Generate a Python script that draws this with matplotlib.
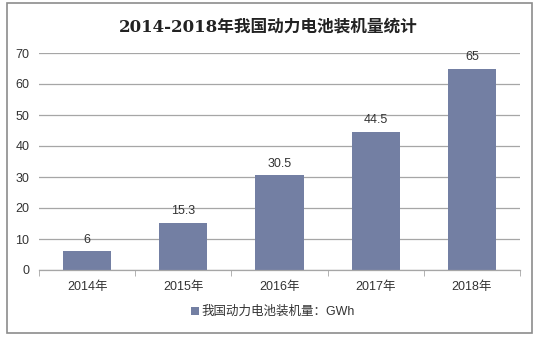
import matplotlib
matplotlib.use("Agg")
import matplotlib.pyplot as plt
from matplotlib.patches import Rectangle
import numpy as np

plt.rcParams['font.family'] = ['Liberation Sans', 'Noto Sans CJK SC', 'DejaVu Sans']

years = ["2014年", "2015年", "2016年", "2017年", "2018年"]
values = [6, 15.3, 30.5, 44.5, 65]
value_labels = ["6", "15.3", "30.5", "44.5", "65"]
yticks = [0, 10, 20, 30, 40, 50, 60, 70]
title = "2014-2018年我国动力电池装机量统计"
legend_label = "我国动力电池装机量：GWh"

bar_color = "#737fa3"
grid_color = "#a6a6a6"
text_color = "#333333"

fig = plt.figure(figsize=(5.39, 3.37), dpi=100)
fig.patch.set_facecolor("white")
fig.patches.append(Rectangle((7 / 539, 4 / 337), 525 / 539, 330 / 337,
                             transform=fig.transFigure, fill=False,
                             edgecolor="#8c8c8c", linewidth=1.2))

ax = fig.add_axes([39 / 539, 67 / 337, 481 / 539, 217 / 337])
x = np.arange(len(years))
bars = ax.bar(x, values, width=0.5, color=bar_color, zorder=3, label=legend_label)

ax.set_xlim(-0.5, len(years) - 0.5)
ax.set_ylim(0, 70)
ax.set_yticks(yticks)
ax.set_yticklabels([str(t) for t in yticks], fontsize=9, color=text_color)
ax.yaxis.grid(True, color=grid_color, linewidth=0.9, zorder=0)
ax.tick_params(axis='y', length=0, pad=7)

ax.set_xticks(x)
ax.set_xticklabels(years, fontsize=9, color=text_color)
ax.set_xticks(np.arange(-0.5, len(years)), minor=True)
ax.tick_params(axis='x', which='major', length=0, pad=8)
ax.tick_params(axis='x', which='minor', length=4, color=grid_color, direction='out')

for s in ['top', 'right', 'left']:
    ax.spines[s].set_visible(False)
ax.spines['bottom'].set_color(grid_color)
ax.spines['bottom'].set_linewidth(0.9)
ax.spines['bottom'].set_zorder(4)

for xi, v, lab in zip(x, values, value_labels):
    ax.annotate(lab, (xi, v), xytext=(0, 4), textcoords='offset points',
                ha='center', va='bottom', fontsize=9, color=text_color)

fig.text(268 / 539, 1 - 27 / 337, title, ha='center', va='center',
         fontsize=12, fontweight='bold', color="#222222",
         family=['DejaVu Serif', 'Noto Sans CJK SC'])

leg = fig.legend(handles=[bars], labels=[legend_label], loc='center',
                 bbox_to_anchor=(273 / 539, 1 - 312 / 337), frameon=False,
                 fontsize=9, handlelength=0.6, handleheight=0.6,
                 handletextpad=0.2)
for t in leg.get_texts():
    t.set_color(text_color)

fig.savefig("out.png", dpi=100, facecolor="white")
